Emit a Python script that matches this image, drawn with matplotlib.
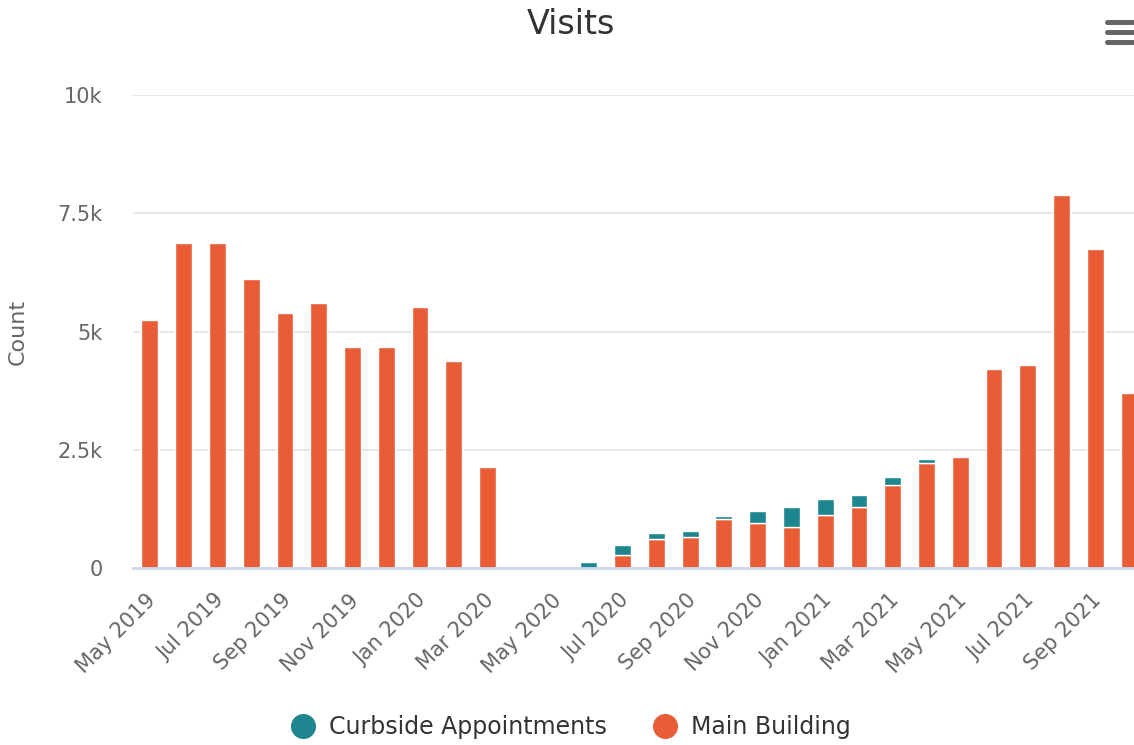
import matplotlib
matplotlib.use("Agg")
import matplotlib.pyplot as plt
from matplotlib.lines import Line2D
import matplotlib.transforms as mtransforms
import numpy as np

# ---- data (monthly, May 2019 .. Oct 2021) ----
months = ["May 2019", "Jun 2019", "Jul 2019", "Aug 2019", "Sep 2019", "Oct 2019",
          "Nov 2019", "Dec 2019", "Jan 2020", "Feb 2020", "Mar 2020", "Apr 2020",
          "May 2020", "Jun 2020", "Jul 2020", "Aug 2020", "Sep 2020", "Oct 2020",
          "Nov 2020", "Dec 2020", "Jan 2021", "Feb 2021", "Mar 2021", "Apr 2021",
          "May 2021", "Jun 2021", "Jul 2021", "Aug 2021", "Sep 2021", "Oct 2021"]
main_building = [5245, 6870, 6870, 6110, 5390, 5600, 4670, 4670, 5520, 4375, 2135, 0,
                 0, 0, 275, 610, 655, 1035, 950, 865, 1120, 1290, 1755, 2220,
                 2345, 4205, 4290, 7885, 6745, 3700]
curbside = [0, 0, 0, 0, 0, 0, 0, 0, 0, 0, 0, 0,
            0, 130, 215, 130, 125, 70, 255, 425, 340, 255, 170, 85,
            0, 0, 0, 0, 0, 0]
yticks = [0, 2500, 5000, 7500, 10000]
ytick_labels = ["0", "2.5k", "5k", "7.5k", "10k"]

C_CURB = "#1d868f"
C_MAIN = "#e85d36"

plt.rcParams["font.family"] = ["DejaVu Sans"]

W, H = 1134, 745
fig = plt.figure(figsize=(W / 100, H / 100), dpi=100)
# plot area runs a little past the right edge, like the original
ax = fig.add_axes([133 / W, (H - 568) / H, (1146 - 133) / W, (568 - 95) / H])

x = np.arange(len(months))
main = np.array(main_building)
curb = np.array(curbside)
ax.bar(x, np.where(main > 0, main, np.nan), width=0.5, color=C_MAIN,
       edgecolor="white", linewidth=1, zorder=3)
ax.bar(x, np.where(curb > 0, curb, np.nan), width=0.5, bottom=main, color=C_CURB,
       edgecolor="white", linewidth=1, zorder=3)

ax.set_xlim(-0.5, len(months) - 0.5)
ax.set_ylim(0, 10000)
ax.set_yticks(yticks)
ax.set_yticklabels(ytick_labels)
ax.grid(axis="y", color="#e6e6e6", linewidth=1.3, zorder=0)
ax.set_axisbelow(True)
for s in ["top", "right", "left"]:
    ax.spines[s].set_visible(False)
ax.spines["bottom"].set_color("#ccd6eb")
ax.spines["bottom"].set_linewidth(2)
ax.spines["bottom"].set_zorder(4)
ax.tick_params(axis="y", length=0, pad=22, labelsize=15, labelcolor="#666666")
ax.tick_params(axis="x", length=0, pad=16, labelsize=15, labelcolor="#666666")

ax.set_xticks(x[::2])
ax.set_xticklabels(months[::2], rotation=45, ha="right", va="top",
                   rotation_mode="anchor")
offset = mtransforms.ScaledTranslation(-4 / 100, 0, fig.dpi_scale_trans)
for lab in ax.get_xticklabels():
    lab.set_transform(lab.get_transform() + offset)

ax.set_ylabel("Count", fontsize=16, color="#666666", labelpad=21)
fig.text(571 / W, 1 - 24 / H, "Visits", ha="center", va="center",
         fontsize=24, color="#333333")

handles = [Line2D([], [], marker="o", ls="", color=C_CURB, markersize=17),
           Line2D([], [], marker="o", ls="", color=C_MAIN, markersize=17)]
fig.legend(handles, ["Curbside Appointments", "Main Building"], loc="center",
           bbox_to_anchor=(571 / W, 1 - 727 / H), ncol=2, frameon=False,
           fontsize=17, handlelength=1.0, handletextpad=0.6, columnspacing=2.0,
           labelcolor="#333333")

# menu icon
for yy in (22, 32, 42):
    fig.add_artist(Line2D([1107 / W, 1133 / W], [1 - yy / H, 1 - yy / H],
                          transform=fig.transFigure, color="#666666",
                          linewidth=3.6, solid_capstyle="round"))

fig.savefig("out.png", dpi=100)
